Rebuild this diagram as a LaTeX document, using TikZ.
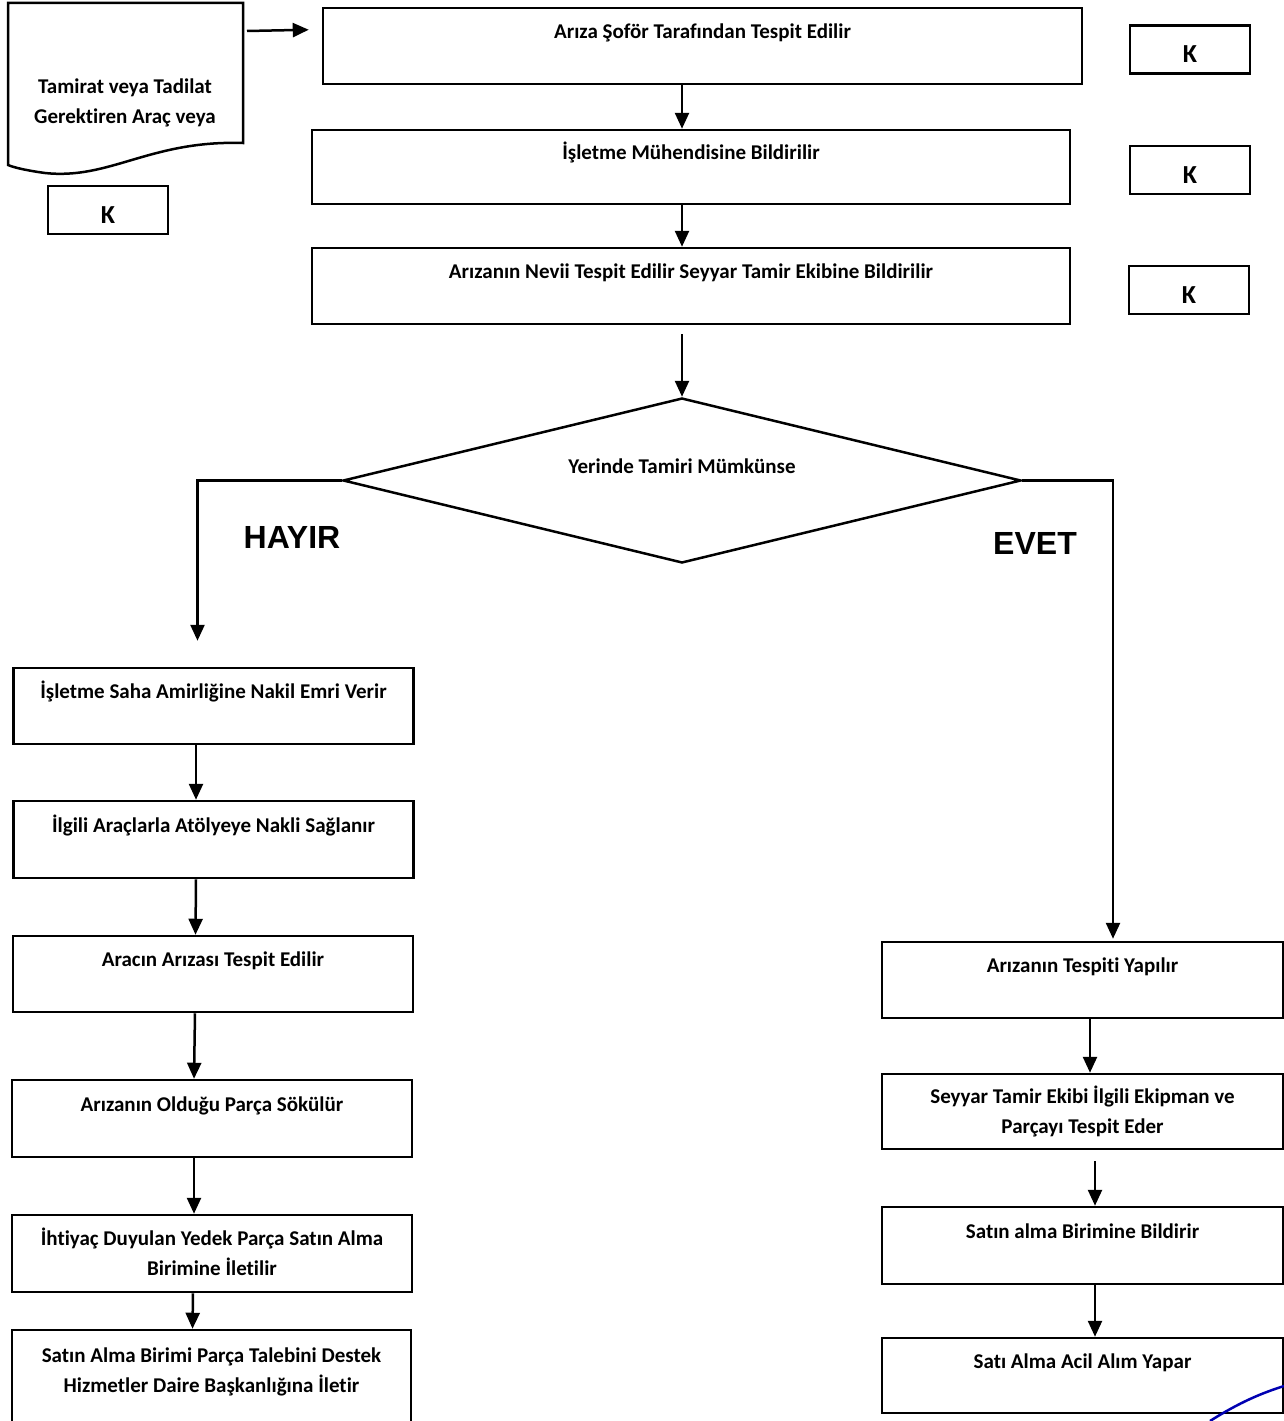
\documentclass[tikz,border=0pt]{standalone}
\usepackage{fontspec}
\setmainfont{Carlito}[Ligatures=NoCommon]
\newfontfamily\arialfont{Liberation Sans}
\usetikzlibrary{shapes.geometric}
\usetikzlibrary{arrows.meta}

\begin{document}
\begin{tikzpicture}[x=1pt,y=-1pt,line width=2.5pt,
  box/.style={draw,rectangle,align=center,inner sep=0pt,
    font=\bfseries\fontsize{21}{30}\selectfont,
    text height=15pt,text depth=30pt},
  tworow/.style={text height=45pt,text depth=2pt},
  topbox/.style={box,minimum width=758pt,minimum height=75pt},
  leftbox/.style={box,minimum width=400pt,minimum height=76pt},
  rightbox/.style={box,minimum width=401pt,minimum height=76pt},
  kbox/.style={draw,rectangle,inner sep=0pt,
    minimum width=120pt,minimum height=48pt,
    text height=26pt,text depth=0pt,
    font=\bfseries\fontsize{26}{30}\selectfont},
  answer/.style={font=\arialfont\bfseries\fontsize{32}{36}\selectfont},
  arr/.style={-{Triangle[length=16pt,width=14pt]}}]
  \useasboundingbox[fill=white] (0,0) rectangle (1284,1421);

  \draw (8,3) coordinate (docnw) -- (243,3) coordinate (docne)
    -- (243,143) .. controls (150,140) and (110,180) .. (45,173)
    .. controls (30,171) and (15,168) .. (8,165) -- cycle;
  \node (doc) [box,tworow,draw=none] at (125,102) {Tamirat veya Tadilat\\Gerektiren Araç veya};
  \node (k0) [kbox] at (108,210) {K};

  \node (ast) [topbox,minimum width=759pt,minimum height=76pt] at (702.5,46) {Arıza Şoför Tarafından Tespit Edilir};
  \node (imb) [topbox,minimum height=74pt] at (691,167) {İşletme Mühendisine Bildirilir};
  \node (ntb) [topbox,minimum height=76pt] at (691,286) {Arızanın Nevii Tespit Edilir Seyyar Tamir Ekibine Bildirilir};
  \node (k1) [kbox] at (1190,49.5) {K};
  \node (k2) [kbox] at (1190,170) {K};
  \node (k3) [kbox] at (1189,290) {K};

  \node (ytm) [box,diamond,shape aspect=4.1,minimum width=678pt,minimum height=165pt] at (682,480.5) {Yerinde Tamiri Mümkünse};
  \node (hayir) [answer] at (292,537) {HAYIR};
  \node (evet) [answer] at (1035,543) {EVET};

  \node (sae) [leftbox] at (213.5,706) {İşletme Saha Amirliğine Nakil Emri Verir};
  \node (aan) [leftbox,minimum height=77pt] at (213.5,839.5) {İlgili Araçlarla Atölyeye Nakli Sağlanır};
  \node (aat) [leftbox] at (213,974) {Aracın Arızası Tespit Edilir};
  \node (aop) [leftbox,minimum height=77pt] at (212,1118.5) {Arızanın Olduğu Parça Sökülür};
  \node (iyp) [leftbox,tworow,minimum height=77pt] at (212,1253.5) {İhtiyaç Duyulan Yedek Parça Satın Alma\\Birimine İletilir};
  \node (spt) [leftbox,minimum width=399pt,minimum height=110pt,text height=45pt,text depth=30pt] at (211.5,1385) {Satın Alma Birimi Parça Talebini Destek\\Hizmetler Daire Başkanlığına İletir};

  \node (aty) [rightbox] at (1082.5,980) {Arızanın Tespiti Yapılır};
  \node (ste) [rightbox,tworow,minimum height=75pt] at (1082.5,1111.5) {Seyyar Tamir Ekibi İlgili Ekipman ve\\Parçayı Tespit Eder};
  \node (sbb) [rightbox,minimum height=77pt] at (1082.5,1245.5) {Satın alma Birimine Bildirir};
  \node (aay) [rightbox,minimum height=75pt] at (1082.5,1375.5) {Satı Alma Acil Alım Yapar};

  \draw[arr] ([shift={(4,28)}]docne) -- ([shift={(-13,23)}]ast.north west);
  \draw[arr] (ast.south -| ytm.north) -- (imb.north -| ytm.north);
  \draw[arr] (imb.south -| ytm.north) -- (ntb.north -| ytm.north);
  \draw[arr] ([yshift=-9pt]ntb.south -| ytm.north) -- (ytm.north);

  \draw[arr] (ytm.west) -| ([shift={(-16,-26)}]sae.north);
  \draw[arr] (ytm.east) -| ([shift={(30.5,-2)}]aty.north);

  \draw[arr] ([xshift=-17.5pt]sae.south) -- ([xshift=-17.5pt]aan.north);
  \draw[arr] ([xshift=-17.5pt]aan.south) -- ([xshift=-17.5pt]aat.north);
  \draw[arr] ([xshift=-18pt]aat.south) -- ([xshift=-18pt]aop.north);
  \draw[arr] ([xshift=-18pt]aop.south) -- ([xshift=-18pt]iyp.north);
  \draw[arr] ([xshift=-19pt]iyp.south) -- ([xshift=-19pt]spt.north);

  \draw[arr] ([xshift=7.5pt]aty.south) -- ([xshift=7.5pt]ste.north);
  \draw[arr] ([shift={(12.5,11)}]ste.south) -- ([xshift=12.5pt]sbb.north);
  \draw[arr] ([xshift=12.5pt]sbb.south) -- ([xshift=12.5pt]aay.north);

  \draw[blue!70!black] (1210,1421) .. controls (1240,1402) and (1262,1393) .. (1284,1386);
\end{tikzpicture}
\end{document}
